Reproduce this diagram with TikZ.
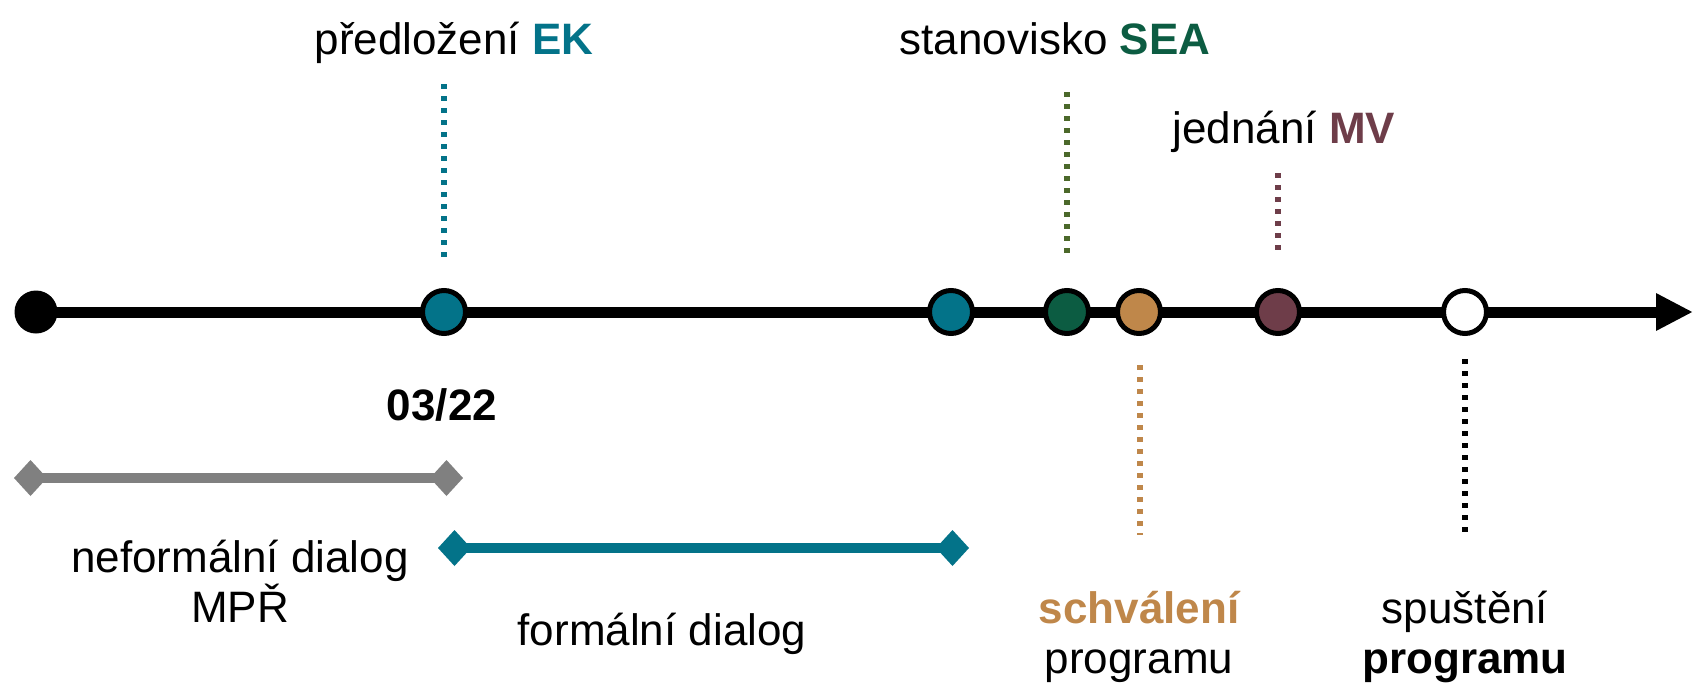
\documentclass[tikz,border=0pt]{standalone}
\usepackage{fontspec}
\setmainfont{Liberation Sans}
\usetikzlibrary{arrows.meta, positioning, backgrounds}
\definecolor{ekteal}{RGB}{3, 115, 137}
\definecolor{seagreen}{RGB}{12, 92, 66}
\definecolor{seaolive}{RGB}{75, 104, 42}
\definecolor{tan1}{RGB}{191, 135, 74}
\definecolor{mvplum}{RGB}{110, 61, 73}
\definecolor{dlggray}{RGB}{128, 128, 128}

\begin{document}
\begin{tikzpicture}[x=0.5pt, y=-0.5pt,
  milestone/.style={circle, draw=black, line width=2.5pt, minimum size=21.5pt, inner sep=0pt},
  lbl/.style={font=\fontsize{22}{25}\selectfont, anchor=base, inner sep=0pt, align=center},
  stem/.style={line width=2.6pt, dash pattern=on 2.6pt off 3.4pt},
  phase/.style={line width=5pt, {Diamond[length=16.5pt, width=18pt]}-{Diamond[length=16.5pt, width=18pt]}}
]
  \useasboundingbox (0,0) rectangle (1694,691);

  % milestones on the time axis
  \node[circle, fill=black, minimum size=21.5pt, inner sep=0pt] (start) at (36,312) {};
  \node[milestone, fill=ekteal] (ek) at (444,312) {};
  \node[milestone, fill=ekteal] (fd) at (951,312) {};
  \node[milestone, fill=seagreen] (sea) at (1067,312) {};
  \node[milestone, fill=tan1] (schv) at (1139,312) {};
  \node[milestone, fill=mvplum] (mv) at (1278,312) {};
  \node[milestone, fill=white] (spust) at (1465,312) {};
  \coordinate (axend) at (1693,312);

  \begin{scope}[on background layer]
    \draw[line width=5.5pt, -{Triangle[length=18.5pt, width=17.5pt]}] (start.center) -- (axend);
  \end{scope}

  % labels (base = last line)
  \node[lbl] (lblek) at (454,54) {předložení \textbf{\color{ekteal}EK}};
  \node[lbl] (lblsea) at (1055,54) {stanovisko \textbf{\color{seagreen}SEA}};
  \node[lbl] (lblmv) at (1284,143) {jednání \textbf{\color{mvplum}MV}};
  \node[lbl] (date) at (442,420) {\textbf{03/22}};
  \node[lbl] (lblschv) at (1139,673) {\textbf{\color{tan1}schválení}\\programu};
  \node[lbl] (lblspust) at (1465,673) {spuštění\\\textbf{programu}};
  \node[lbl] (lblinf) at (240,622) {neformální dialog\\MPŘ};
  \node[lbl] (lblform) at (662,645) {formální dialog};

  % dotted stems
  \coordinate (ekt) at (444,84);   \coordinate (ekb) at (444,259);
  \coordinate (seat) at (1067,92); \coordinate (seab) at (1067,259);
  \coordinate (mvt) at (1278,173); \coordinate (mvb) at (1278,251);
  \coordinate (scht) at (1140,365); \coordinate (schb) at (1140,535);
  \coordinate (spt) at (1465,359); \coordinate (spb) at (1465,538);
  \draw[stem, ekteal] (ekt) -- (ekb);
  \draw[stem, seaolive] (seat) -- (seab);
  \draw[stem, mvplum] (mvt) -- (mvb);
  \draw[stem, tan1] (scht) -- (schb);
  \draw[stem, black] (spt) -- (spb);

  % dialog phases
  \coordinate (infa) at (14,478);  \coordinate (infb) at (463,478);
  \coordinate (forma) at (438,548); \coordinate (formb) at (969,548);
  \draw[phase, dlggray] (infa) -- (infb);
  \draw[phase, ekteal] (forma) -- (formb);
\end{tikzpicture}
\end{document}
